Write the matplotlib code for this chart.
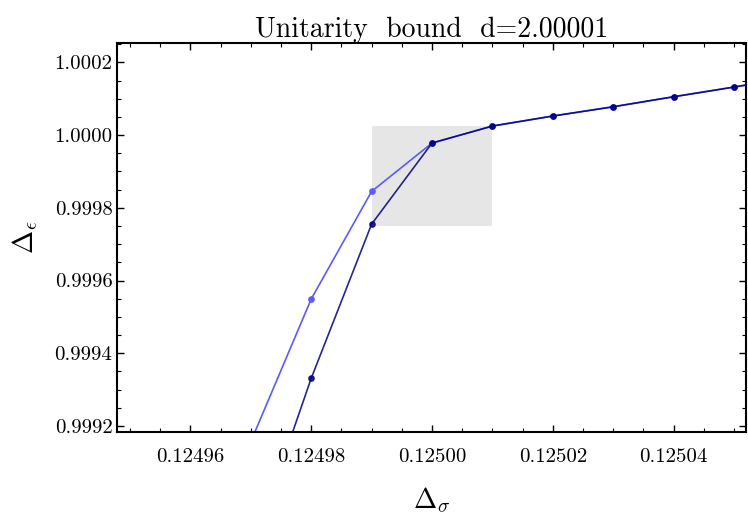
import numpy as np
import matplotlib
matplotlib.use('Agg')
import matplotlib.pyplot as plt
from matplotlib.ticker import MultipleLocator, FormatStrFormatter

plt.rcParams['font.family'] = 'cmr10'
plt.rcParams['mathtext.fontset'] = 'cm'
plt.rcParams['axes.formatter.use_mathtext'] = True

# data
delta_sigma = [0.12497, 0.12498, 0.12499, 0.12500, 0.12501, 0.12502, 0.12503, 0.12504, 0.12505, 0.12506]
eps_light = [0.999157, 0.999549, 0.999845, 0.999978, 1.0000248, 1.0000523, 1.0000778, 1.0001053, 1.000132, 1.000160]
eps_dark = [0.998850, 0.999331, 0.999755, 0.999978, 1.0000248, 1.0000523, 1.0000778, 1.0001053, 1.000132, 1.000160]

# shaded box
box_x = [0.12499, 0.12501]
box_y = [0.99975, 1.000026]

fig = plt.figure(figsize=(7.48, 5.18), dpi=100)
ax = fig.add_axes([0.1568, 0.1666, 0.9967 - 0.1568, 0.9164 - 0.1666])

ax.fill_between(box_x, box_y[0], box_y[1], color='#e6e6e6', lw=0, zorder=1)

ax.plot(delta_sigma, eps_light, '-o', color='#5a5aff', lw=1.2, ms=3.8, zorder=2)
ax.plot(delta_sigma, eps_dark, '-o', color='#000080', lw=1.2, ms=3.8, alpha=0.85, zorder=3)

ax.set_xlim(0.1249479, 0.1250519)
ax.set_ylim(0.9991843, 1.0002523)

ax.xaxis.set_major_locator(MultipleLocator(0.00002))
ax.xaxis.set_minor_locator(MultipleLocator(0.000005))
ax.yaxis.set_major_locator(MultipleLocator(0.0002))
ax.yaxis.set_minor_locator(MultipleLocator(0.00005))
ax.xaxis.set_major_formatter(FormatStrFormatter('%.5f'))
ax.yaxis.set_major_formatter(FormatStrFormatter('%.4f'))

ax.tick_params(which='both', direction='in', top=True, right=True, labelsize=15)
ax.tick_params(which='major', length=5, width=1)
ax.tick_params(which='minor', length=3, width=0.8)
ax.tick_params(axis='x', pad=12)
for s in ax.spines.values():
    s.set_linewidth(1.5)

ax.set_title('Unitarity  bound  d=2.00001', fontsize=20, pad=4)
ax.set_xlabel(r'$\Delta_\sigma$', fontsize=20, labelpad=14)
ax.set_ylabel(r'$\Delta_\epsilon$', fontsize=20, labelpad=10)

fig.savefig('out.png', dpi=100)
